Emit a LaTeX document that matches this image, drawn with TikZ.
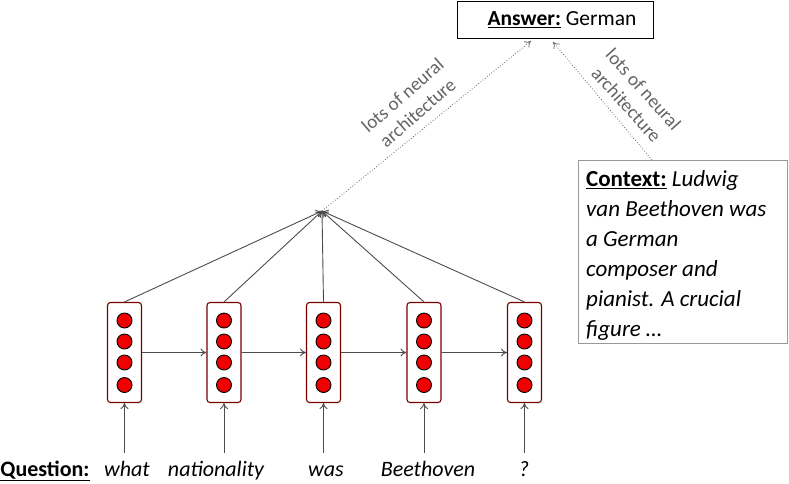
\documentclass[tikz,border=0pt]{standalone}
\usepackage{fontspec}
\setmainfont{Carlito}
\usetikzlibrary{arrows.meta}
\definecolor{cellred}{RGB}{120,0,0}
\definecolor{dotred}{RGB}{240,0,0}
\definecolor{lblgray}{RGB}{100,100,100}
\tikzset{
  cell/.style={draw=cellred, fill=white, rounded corners=3pt, line width=1.1pt, minimum width=34pt, minimum height=100pt, inner sep=0pt},
  unit/.style={circle, draw=black, fill=dotred, line width=0.9pt, minimum size=15pt, inner sep=0pt},
  conn/.style={draw=black!70, line width=0.9pt, -{To[length=6pt,width=8pt]}},
  dotconn/.style={draw=black!60, line width=0.8pt, dotted, -{To[length=6pt,width=8pt]}},
  word/.style={font=\fontsize{22}{26}\selectfont\itshape, anchor=base},
  lbl/.style={font=\fontsize{19}{23}\selectfont, text=lblgray, align=center, inner sep=0pt},
}
\begin{document}
\begin{tikzpicture}[x=1pt,y=-1pt]
\useasboundingbox (0,0) rectangle (789,483);
% answer box
\node[draw=black, line width=0.9pt, minimum width=196pt, minimum height=37pt, inner sep=0pt] (ans) at (555,19.5) {};
\node[inner sep=0pt, font=\fontsize{21.5}{24}\selectfont] (anst) at (562,20) {\textbf{\underline{Answer:}} German};
% context box
\node[draw=black!40, line width=0.9pt, minimum width=209pt, minimum height=183pt, inner sep=0pt] (ctx) at (682.5,251.5) {};
\node[anchor=north west, align=left, inner sep=0pt, font=\fontsize{23}{30}\selectfont] (ctxt) at (586,170) {\textbf{\underline{Context:}} \textit{Ludwig}\\\textit{van Beethoven was}\\\textit{a German}\\\textit{composer and}\\\textit{pianist. A crucial}\\\textit{figure …}};
% hub
\coordinate (hub) at (322,211);
\coordinate (ctop) at (652,160);
% cells
\foreach \i/\x in {1/124.5,2/224,3/323.5,4/424,5/524.5}{
  \node[cell] (c\i) at (\x,352.5) {};
  \foreach \j/\y in {1/320.5,2/341.5,3/362.5,4/385}{
    \node[unit] (u\i\j) at (\x,\y) {};
  }
  \coordinate (in\i) at (\x,453);
  \draw[conn] (in\i) -- (c\i.south);
  \draw[conn] (c\i.north) -- (hub);
}
\foreach \a/\b in {1/2,2/3,3/4,4/5}{
  \draw[conn] (c\a.east) -- (c\b.west);
}
% dotted connectors
\draw[dotconn] (hub) -- (531,41);
\draw[dotconn] (ctop) -- (553,42);
\node[lbl, rotate=41] (l1) at (410,104) {lots of neural\\architecture};
\node[lbl, rotate=-48] (l2) at (635,97) {lots of neural\\architecture};
% question words
\node[word, font=\fontsize{22}{26}\selectfont\bfseries] (q) at (45,476) {\underline{Question:}};
\node[word] (w1) at (127,476) {what};
\node[word] (w2) at (216,476) {nationality};
\node[word] (w3) at (326,476) {was};
\node[word] (w4) at (428,476) {Beethoven};
\node[word] (w5) at (524,476) {?};
\end{tikzpicture}
\end{document}
